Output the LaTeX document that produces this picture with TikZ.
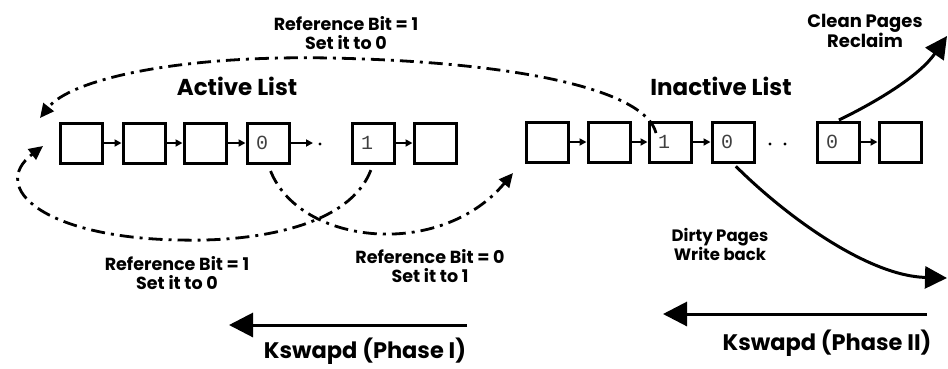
\documentclass[tikz,border=0pt]{standalone}
\usepackage{fontspec}
\setmainfont{Poppins}
\newfontfamily\digitfont{Liberation Mono}
\usetikzlibrary{arrows.meta}

\tikzset{
  pg/.style={draw, line width=3pt, minimum width=42pt, minimum height=40pt,
             text width=24pt, inner xsep=7pt, align=left,
             font=\digitfont\fontsize{20}{20}\selectfont, text=black!75},
  link/.style={line width=2.2pt, -{Triangle[length=7pt,width=7pt]}},
  refpath/.style={line width=2.8pt, dash pattern=on 14pt off 6pt on 3pt off 6pt,
                  -{Triangle[length=14pt,width=13pt]}},
  bigarrow/.style={line width=3pt, -{Triangle[length=24pt,width=24pt]}},
  curvearrow/.style={line width=3pt, -{Triangle[length=22pt,width=22pt]}},
  title/.style={font=\bfseries\fontsize{23}{26}\selectfont},
  note/.style={font=\bfseries\fontsize{17.5}{19}\selectfont, align=center},
  dirtynote/.style={font=\bfseries\fontsize{16.5}{19}\selectfont, align=center},
  cleannote/.style={font=\bfseries\fontsize{18}{19}\selectfont, align=center},
  phase/.style={font=\bfseries\fontsize{22.5}{26}\selectfont},
}

\begin{document}
\begin{tikzpicture}[x=1pt,y=-1pt]
\useasboundingbox (0,0) rectangle (948,368);

% Active list
\node[pg] (a1) at (81,143) {};
\node[pg] (a2) at (144,143) {};
\node[pg] (a3) at (205,143) {};
\node[pg] (a4) at (268,143) {0};
\node[pg] (a5) at (373,143) {1};
\node[pg] (a6) at (435,143) {};
\coordinate (adot) at (320,144);

\draw[link] (a1) -- (a2);
\draw[link] (a2) -- (a3);
\draw[link] (a3) -- (a4);
\draw[link] (a4.east) -- (313,143);
\fill (adot) circle (1.7pt);
\draw[link] (a5) -- (a6);

% Inactive list
\node[pg] (i1) at (547,142) {};
\node[pg] (i2) at (609,142) {};
\node[pg] (i3) at (670,142) {1};
\node[pg] (i4) at (733,142) {0};
\node[pg] (i5) at (838,142) {0};
\node[pg] (i6) at (900,142) {};
\coordinate (idot1) at (770,144);
\coordinate (idot2) at (785,144);

\draw[link] (i1) -- (i2);
\draw[link] (i2) -- (i3);
\draw[link] (i3) -- (i4);
\fill (idot1) circle (1.7pt) (idot2) circle (1.7pt);
\draw[link] (i5) -- (i6);

% Titles
\node[title] (tact) at (237,86) {Active List};
\node[title] (tinact) at (721,86) {Inactive List};

% Referenced inactive page moves back to the head of the active list
\coordinate (topstart) at (656,133);
\coordinate (topend) at (40,118);
\draw[refpath] (topstart) .. controls (645,90) and (520,62) .. (330,58)
                          .. controls (175,55) and (70,80) .. (topend);
\node[note] (ltop) at (346,33) {Reference Bit = 1\\Set it to 0};

% Referenced active page rotates to the head
\coordinate (loopend) at (43,146);
\draw[refpath, shorten <=6pt] (a5.south) .. controls (350,225) and (260,242) .. (180,240)
                                  .. controls (45,238) and (-12,188) .. (loopend);
\node[note] (lleft) at (177,273) {Reference Bit = 1\\Set it to 0};

% Unreferenced active page moves to the inactive list
\coordinate (deact) at (513,173);
\draw[refpath, shorten <=7pt] (a4.south) .. controls (300,245) and (440,260) .. (deact);
\node[note] (lmid) at (430,266) {Reference Bit = 0\\Set it to 1};

% Reclaim clean pages
\coordinate (cleanend) at (947,36);
\draw[curvearrow, shorten <=1pt] (i5.north) .. controls (880,100) and (920,75) .. (cleanend);
\node[cleannote] (lclean) at (865,31) {Clean Pages\\Reclaim};

% Write back dirty pages
\coordinate (dirtyend) at (947,278);
\draw[curvearrow, shorten <=4pt] (i4.south) .. controls (790,220) and (870,276) .. (dirtyend);
\node[dirtynote] (ldirty) at (720,244) {Dirty Pages\\Write back};

% Kswapd scan directions
\coordinate (k1s) at (467,325);
\coordinate (k1e) at (229,325);
\draw[bigarrow] (k1s) -- (k1e);
\node[phase] (lk1) at (365,351) {Kswapd (Phase I)};

\coordinate (k2s) at (927,314);
\coordinate (k2e) at (663,314);
\draw[bigarrow] (k2s) -- (k2e);
\node[phase] (lk2) at (827,343) {Kswapd (Phase II)};
\end{tikzpicture}
\end{document}
